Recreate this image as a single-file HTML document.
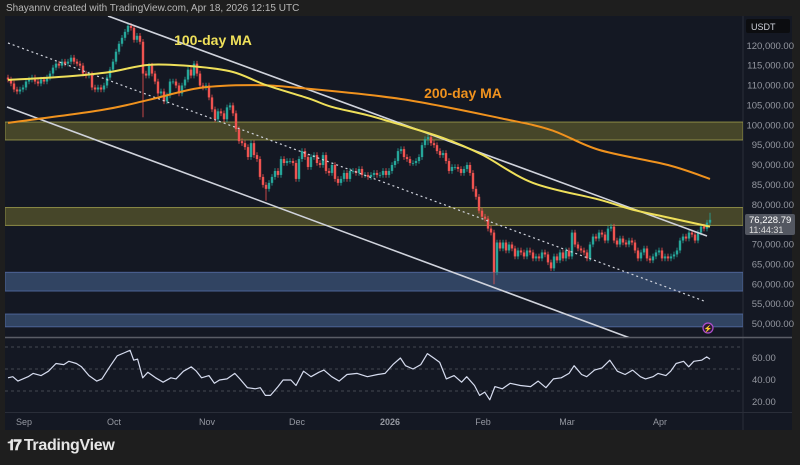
<!DOCTYPE html>
<html><head><meta charset="utf-8"><style>
html,body{margin:0;padding:0;background:#1e1e1e;}
body{width:800px;height:465px;overflow:hidden;font-family:"Liberation Sans",sans-serif;position:relative;}
#hdr{position:absolute;left:6px;top:3px;font-size:10px;color:#b8b8b8;}
#logo{position:absolute;left:7px;top:437px;font-size:16px;color:#e6e6e6;font-weight:bold;letter-spacing:-0.3px;}
svg{position:absolute;left:0;top:0;}
</style></head><body>
<div id="hdr">Shayannv created with TradingView.com, Apr 18, 2026 12:15 UTC</div>
<div id="logo"><span style="font-size:15px;letter-spacing:-2px">𝟏𝟕</span> TradingView</div>
<svg id="c" width="800" height="465"></svg>
<script>
// ---- data ----
const closes = [
111.5,110.5,109,108.5,109,
109.5,111,111.5,112,111,110.5,111.5,111,112,113,114.5,115.5,115,116,115.5,116,117,116,115.5,115,113,112.5,112.8,109.5,109,109.5,109,110,112,114,
116,118.5,120.5,122,123.5,125,124.5,121.5,122.5,121,113,112.5,115,113,111,108,108.5,106,107.5,111,111,110,108,110,111.5,114,112.5,115.5,113,110,109.5,
110,107,104,101.5,103.5,103,101.5,104.5,105,103,99,96,95.5,94.5,92,95.5,92.5,91.5,87,85,84,85.5,87,88.5,87.5,91.5,90.5,91,91,90.5,
86.5,91.5,93.5,92,89.5,92,92.5,90.5,90,92.5,88.5,88,90,86.5,85.5,86.5,88,86.5,88.5,88.5,88,89,87.5,87.5,87,87.5,88,87.5,87.5,88.5,87.5,
88.5,90,91,93.5,94,92,91.5,90.5,90.5,91,92,95,96.5,97,95.5,95,93.5,92.5,93,91,88.5,89.5,89.5,89,88,89,90,88,84,82,78.5,
77,76.5,74,73,63,70.5,69,70.5,68.5,70,69,67,68.5,68,67,68.5,68,66.5,67,66.5,68,67.5,65.5,64,67,66,68,66.5,
68.5,67,73,70,69,68.5,68,66.5,70,72,71.5,73,72.5,71,74,74.5,71,70,71.5,70.5,70,71,70.5,68.5,66.5,68,69,66.5,66,67,68,
68.5,66.5,67,66.5,67,67.5,68.5,71,72,71.5,73,72.5,71,73,74.5,74,75.5,76.2];
const wickDays = [45,86,162,140,234];
const wickLows = [102,81,60,95,75];
const ma100Day = [0,20,34,47,62,75,86,100,108,120,131,145,158,175,197,208,220,234];
const ma100Val = [111.4,112.3,113.4,115.2,114.8,113.4,110.1,106.8,104.6,102.5,100.1,96.8,92.6,85.5,81.3,78.8,76.8,74.5];
const ma200Day = [0,31,47,64,81,97,131,164,181,197,220,234];
const ma200Val = [100.6,103.8,106.4,109.4,110.1,109.4,106.6,101.8,98.8,93.8,90,86.5];
const rsiDay = [0,1.6,3.3,6.7,8.4,11,13.5,16,18.6,20.3,22.8,24.5,27,29.6,31.3,33.9,36.4,39,40.7,41.9,43.2,44.9,46.6,49.2,51.7,54.3,56,58.5,61.1,62.8,64.5,67,68.8,70.5,73,75.6,77.3,79.8,82.4,84.1,85.8,87.5,90,91.7,94.3,96,98.5,101,103.6,105.3,107.9,110.4,113,116.4,119.8,123.2,125.7,128.3,130.8,132.5,135,137.6,139.8,141.9,143.9,146.1,148.7,151.2,152.9,155.5,157.2,158.9,160.6,162.3,164.8,167.4,170.8,174.2,176.7,179.3,181.8,184.4,187,188.7,191.2,192.9,195.5,198,200.6,203.1,205.7,208.2,210.8,212.5,215,216.7,219.3,220.9,222.7,225.2,226.9,228.6,231.2,232.9,234];
const rsiVal = [42,43,39,43,46,44,48,55,54,57,55,52,44,39,41,52,62,65,67,58,59,42,47,42,38,42,41,48,52,48,42,44,37,40,41,46,41,33,32,33,26,26,34,40,40,35,48,43,47,49,43,39,45,46,43,45,46,54,60,53,50,54,64,60,56,41,44,38,43,35,26,29,22,34,32,37,35,34,39,33,41,42,46,53,45,43,49,51,58,48,45,49,43,41,43,46,44,48,55,57,52,57,58,61,59];
const priceTicks = [120,115,110,105,100,95,90,85,80,75,70,65,60,55,50];
const rsiTicks = [60,40,20];
const monthLabels = ["Sep","Oct","Nov","Dec","2026","Feb","Mar","Apr"];
const monthDays = [5,35,66,96,127,158,186,217];

// ---- scales ----
const xS = d => 8 + d*3;
const yP = p => 324 - (p-50)*3.975;
const yR = r => 402 - (r-20)*1.1;
const NS="http://www.w3.org/2000/svg";
const svg=document.getElementById('c');
function mk(tag,attrs,parent){const e=document.createElementNS(NS,tag);for(const k in attrs)e.setAttribute(k,attrs[k]);(parent||svg).appendChild(e);return e;}

let e;
e=mk('rect',{x:5,y:16,width:787,height:414,fill:'#141823'});


mk('line',{x1:743,y1:16,x2:743,y2:430,stroke:'#2a2e39'});
mk('line',{x1:5,y1:337.5,x2:792,y2:337.5,stroke:'#5a5d66','stroke-width':1.5});
mk('line',{x1:5,y1:412.5,x2:792,y2:412.5,stroke:'#2a2e39'});
const defs=mk('defs',{});
const cp=mk('clipPath',{id:'pc'},defs);mk('rect',{x:5,y:16,width:738,height:321},cp);
const g=mk('g',{'clip-path':'url(#pc)'});

const zones=[[100.8,96.3,'#464629','#8b8a45','yellow-zone-upper'],[79.3,74.8,'#464629','#8b8a45','yellow-zone-lower'],[63,58.3,'#314462','#4d6396','blue-zone-upper'],[52.5,49.3,'#314462','#4d6396','blue-zone-lower']];
zones.forEach(z=>{
  const r=mk('rect',{x:5,y:yP(z[0]),width:738,height:yP(z[1])-yP(z[0]),fill:z[2],stroke:z[3],'stroke-width':1},g);
  
  
});

closes.forEach((c,i)=>{
  const o = i===0 ? c+0.5 : closes[i-1];
  const up = c>=o;
  const col = up?'#26a69a':'#ef5350';
  const wi = wickDays.indexOf(i);
  let hi=Math.max(o,c)+0.7, lo=Math.min(o,c)-0.7;
  if(wi>=0) lo=Math.min(lo,wickLows[wi]);
  if(i===234) hi=78;
  const x=xS(i);
  mk('line',{x1:x,y1:yP(hi),x2:x,y2:yP(lo),stroke:col,'stroke-width':0.8},g);
  const t=yP(Math.max(o,c)), b=yP(Math.min(o,c));
  const rc=mk('rect',{x:x-1.2,y:t,width:2.4,height:Math.max(0.8,b-t),fill:col},g);
  
  
});

e=mk('line',{x1:108,y1:16,x2:707,y2:236,stroke:'#d0d3dc','stroke-width':1.6},g);


e=mk('line',{x1:7,y1:107,x2:630,y2:338,stroke:'#d0d3dc','stroke-width':1.6},g);


e=mk('line',{x1:8,y1:43,x2:704,y2:301,stroke:'#d0d3dc','stroke-width':1.2,'stroke-dasharray':'2 3'},g);



function pathFrom(ds,vs,yf){return ds.map((d,i)=>(i?'L':'M')+xS(d).toFixed(1)+' '+yf(vs[i]).toFixed(1)).join(' ');}
function smoothFrom(ds,vs,yf){
  const p=ds.map((d,i)=>[xS(d),yf(vs[i])]);
  let s='M'+p[0][0]+' '+p[0][1];
  for(let i=0;i<p.length-1;i++){
    const p0=p[Math.max(0,i-1)],p1=p[i],p2=p[i+1],p3=p[Math.min(p.length-1,i+2)];
    const c1=[p1[0]+(p2[0]-p0[0])/6,p1[1]+(p2[1]-p0[1])/6];
    const c2=[p2[0]-(p3[0]-p1[0])/6,p2[1]-(p3[1]-p1[1])/6];
    s+=' C'+c1.join(' ')+' '+c2.join(' ')+' '+p2.join(' ');
  }
  return s;
}
e=mk('path',{d:smoothFrom(ma200Day,ma200Val,yP),fill:'none',stroke:'#f0921e','stroke-width':2},g);


e=mk('path',{d:smoothFrom(ma100Day,ma100Val,yP),fill:'none',stroke:'#efe05a','stroke-width':2},g);



e=mk('text',{x:213,y:45,fill:'#efe05a','font-size':14,'font-weight':'bold','text-anchor':'middle','font-family':'Liberation Sans'});e.textContent='100-day MA';


e=mk('text',{x:463,y:98,fill:'#f0921e','font-size':14,'font-weight':'bold','text-anchor':'middle','font-family':'Liberation Sans'});e.textContent='200-day MA';



e=mk('rect',{x:746,y:19,width:44,height:14,fill:'#0c0d10',rx:2});
e=mk('text',{x:751,y:30,fill:'#d0d3dc','font-size':9,'font-family':'Liberation Sans'});e.textContent='USDT';


priceTicks.forEach(p=>{
  const t=mk('text',{x:794,y:yP(p)+3,fill:'#9598a1','font-size':9.5,'text-anchor':'end','font-family':'Liberation Sans'});
  t.textContent=(p*1000).toLocaleString('en-US')+'.00';
  
  
});
e=mk('rect',{x:745,y:214,width:50,height:21,fill:'#535761',rx:2});


e=mk('text',{x:749,y:223,fill:'#fff','font-size':9.5,'font-family':'Liberation Sans'});e.textContent='76,228.79';
e=mk('text',{x:749,y:233,fill:'#ddd','font-size':9,'font-family':'Liberation Sans'});e.textContent='11:44:31';
e=mk('circle',{cx:708,cy:328,r:5,fill:'#2a1a33',stroke:'#b04fd0','stroke-width':1.2});


mk('text',{x:708,y:331,fill:'#c060e0','font-size':7,'text-anchor':'middle'}).textContent='⚡';

[70,50,30].forEach(r=>mk('line',{x1:5,y1:yR(r),x2:743,y2:yR(r),stroke:'#555962','stroke-width':0.8,'stroke-dasharray':'3 3'}));
e=mk('path',{d:pathFrom(rsiDay,rsiVal,yR),fill:'none',stroke:'#d6dcef','stroke-width':1.2,'stroke-linejoin':'round'});


rsiTicks.forEach(r=>{
  const t=mk('text',{x:752,y:yR(r)+3,fill:'#9598a1','font-size':9.5,'font-family':'Liberation Sans'});
  t.textContent=r.toFixed(2);
  
  
});

monthLabels.forEach((m,i)=>{
  const t=mk('text',{x:xS(monthDays[i])+1,y:425,fill:'#9598a1','font-size':9,'text-anchor':'middle','font-family':'Liberation Sans','font-weight':m==='2026'?'bold':'normal'});
  t.textContent=m;
  
  
});
</script>
</body></html>
